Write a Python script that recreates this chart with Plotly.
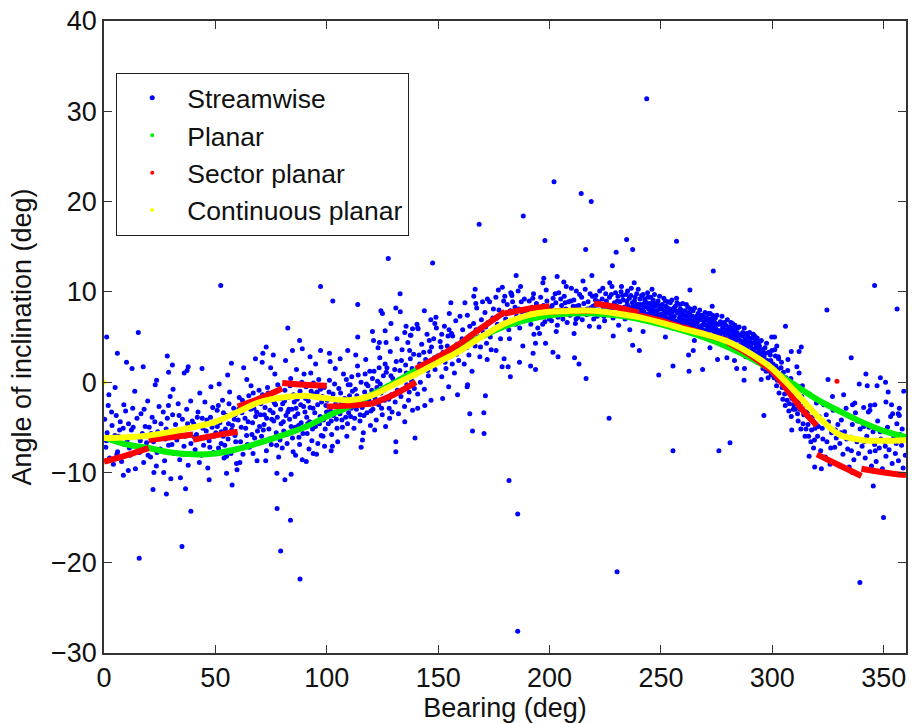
import plotly.graph_objects as go

# ---------------- data ----------------
# Streamwise scatter: (bearing deg, inclination deg)
stream_band_0_100 = [
    (0.3,-4.1),(0.8,-7.2),(1.4,-5.6),(1.9,-2.6),(2.5,-8.4),(3.1,-6.3),(3.6,-4.8),(4.2,-9.1),(4.9,-5.9),(5.5,-3.7),
    (6.1,-7.7),(6.6,-6.0),(7.3,-4.4),(7.9,-8.8),(8.6,-5.1),(9.2,-6.9),(9.7,-3.2),(2.2,-1.4),(5.0,-0.6),
    (10.4,-6.4),(11.0,-4.6),(11.7,-8.1),(12.3,-5.3),(12.9,-2.9),(13.4,-7.0),(14.1,-9.6),(14.8,-4.0),(15.3,-6.1),
    (15.9,-7.8),(16.6,-3.5),(17.2,-5.7),(17.8,-8.9),(18.5,-4.9),(19.1,-6.7),(19.6,-2.1),(13.8,-1.0),
    (20.3,-5.0),(20.9,-8.3),(21.6,-3.9),(22.2,-6.6),(22.8,-4.4),(23.5,-9.3),(24.1,-5.5),(24.7,-2.7),(25.3,-7.4),
    (26.0,-6.0),(26.6,-3.3),(27.2,-8.7),(27.9,-5.2),(28.4,-4.0),(29.0,-7.0),(29.7,-1.6),(23.0,-0.3),(26.8,-10.0),
    (30.2,-5.8),(30.8,-3.6),(31.5,-7.9),(32.1,-4.7),(32.7,-6.4),(33.3,-2.4),(34.0,-8.6),(34.6,-5.3),(35.2,-4.1),
    (35.9,-7.1),(36.5,-6.0),(37.1,-3.0),(37.8,-9.2),(38.4,-5.0),(39.0,-6.8),(39.6,-4.3),(31.0,-0.8),(36.0,1.0),
    (40.3,-4.6),(40.9,-7.5),(41.5,-5.8),(42.2,-3.3),(42.8,-8.9),(43.4,-6.2),(44.1,-4.0),(44.7,-7.0),(45.3,-2.2),
    (45.9,-5.4),(46.6,-9.5),(47.2,-6.5),(47.8,-3.9),(48.5,-5.0),(49.1,-7.8),(49.7,-4.5),(43.0,-1.2),(48.0,-0.5),
    (50.2,-5.6),(50.8,-3.1),(51.4,-7.3),(52.0,-4.5),(52.6,-6.8),(53.2,-2.0),(53.9,-8.4),(54.5,-5.2),(55.1,-3.7),
    (55.7,-6.3),(56.4,-1.1),(57.0,-7.9),(57.6,-4.8),(58.2,-2.9),(58.8,-5.9),(59.5,-9.0),(51.7,-0.2),(55.5,0.8),
    (58.5,-4.1),(53.5,-6.0),
    (60.2,-4.2),(60.7,-1.7),(61.3,-6.6),(61.9,-3.4),(62.4,-8.0),(63.0,-2.5),(63.6,-5.1),(64.1,0.3),(64.7,-4.4),
    (65.3,-7.2),(65.8,-3.0),(66.4,-5.8),(67.0,-1.2),(67.6,-6.2),(68.1,-3.8),(68.7,-8.7),(69.3,-2.2),(69.8,-4.9),
    (62.7,1.6),(66.0,-0.4),(64.0,-5.9),(68.5,-3.3),
    (70.2,-3.6),(70.7,-6.0),(71.2,-1.4),(71.8,-4.7),(72.3,-2.8),(72.9,-7.6),(73.4,-0.6),(74.0,-5.2),(74.5,-3.1),
    (75.1,-6.9),(75.6,-2.0),(76.2,-4.3),(76.7,0.9),(77.3,-5.6),(77.8,-3.9),(78.4,-8.3),(78.9,-1.8),(79.5,-4.6),
    (71.0,2.2),(74.8,1.6),(77.0,-2.5),(73.0,-4.0),(79.0,-6.4),(75.9,-3.4),
    (80.2,-2.4),(80.7,-5.4),(81.2,-0.9),(81.7,-3.7),(82.2,-6.8),(82.8,-1.7),(83.3,-4.1),(83.8,0.4),(84.3,-3.0),
    (84.9,-7.7),(85.4,-2.2),(85.9,-5.0),(86.4,1.4),(87.0,-3.5),(87.5,-6.1),(88.0,-1.0),(88.5,-4.5),(89.0,-8.6),
    (89.6,-2.7),(81.5,2.4),(84.0,-4.9),(86.2,-2.9),(88.8,0.0),(82.5,-3.3),(85.0,-1.4),(87.8,-6.9),
    (90.2,-3.3),(90.7,-0.5),(91.2,-5.7),(91.7,-2.1),(92.3,-4.4),(92.8,1.0),(93.3,-6.5),(93.8,-2.9),(94.3,-1.3),
    (94.9,-4.9),(95.4,-8.0),(95.9,-2.5),(96.4,0.3),(97.0,-3.8),(97.5,-5.9),(98.0,-1.6),(98.5,-4.2),(99.0,-7.1),
    (99.6,-2.6),(91.0,-3.9),(93.0,-1.0),(95.0,2.0),(97.2,-0.8),(99.3,-5.2),(96.0,-6.8),(92.0,-7.4),
]
stream_band_0_100_extra = [
    (1.1,-6.5),(3.4,-3.3),(5.8,-8.0),(7.0,-5.3),(8.9,-2.5),(11.4,-7.3),(13.1,-5.0),(16.3,-6.5),(18.0,-3.0),(19.8,-8.1),
    (21.2,-5.7),(23.8,-7.8),(25.6,-4.6),(27.6,-6.3),(28.9,-2.6),(30.5,-6.9),(32.4,-5.6),(33.7,-3.7),(35.5,-8.0),(37.5,-4.6),
    (38.9,-2.1),(40.6,-6.1),(41.9,-3.9),(43.7,-8.1),(44.4,-5.1),(46.2,-4.2),(47.5,-7.2),(48.8,-2.8),(49.4,-6.0),(34.3,-10.6),
    (50.9,-4.9),(51.3,-2.6),(52.7,-5.5),(53.6,-3.4),(54.2,-7.0),(55.9,-4.6),(56.1,-2.4),(57.3,-5.3),(58.9,-3.6),(59.1,-6.6),
    (60.5,-3.0),(61.6,-5.0),(62.1,-2.0),(63.3,-4.0),(64.4,-6.9),(65.0,-1.5),(66.7,-4.5),(67.3,-2.9),(68.9,-5.4),(69.6,-0.9),
    (70.4,-2.4),(71.5,-5.3),(72.0,-3.6),(73.7,-1.2),(74.2,-6.3),(75.3,-4.1),(76.5,-2.3),(77.5,-7.0),(78.0,-0.3),(79.3,-3.0),
    (80.5,-4.4),(81.0,-2.1),(82.0,-5.8),(83.0,-3.0),(83.5,-0.4),(84.6,-6.2),(85.7,-3.8),(86.7,-1.9),(87.3,-4.8),(88.3,-2.5),
    (89.3,-5.7),(89.8,0.9),(90.5,-1.8),(91.4,-4.6),(92.5,-2.8),(93.6,-5.2),(94.0,-0.1),(94.6,-3.4),(95.7,-1.1),(96.7,-4.6),
    (97.7,-2.2),(98.3,-6.0),(98.8,-0.6),(99.9,-3.3),(55.0,-8.2),(61.0,-8.9),(66.9,-7.9),(72.6,-8.7),(80.0,-7.3),(86.0,-8.1),
    (93.9,-7.9),
]
stream_band_100_200 = [
    (100.2,-2.0),(100.7,-4.6),(101.2,0.2),(101.7,-3.2),(102.2,-5.8),(102.8,-1.3),(103.3,-2.7),(103.8,1.5),(104.3,-4.1),
    (104.9,-6.6),(105.4,-0.7),(105.9,-3.5),(106.4,-2.2),(107.0,-5.0),(107.5,0.9),(108.0,-1.8),(108.5,-3.9),(109.0,-6.0),
    (109.6,-0.3),(101.5,2.3),(103.0,-3.7),(105.0,-1.9),(107.2,-2.9),(109.3,-4.6),(106.0,2.6),(102.5,-7.1),
    (110.2,-1.5),(110.7,-3.8),(111.2,0.6),(111.7,-2.4),(112.2,-5.1),(112.8,-0.8),(113.3,-3.0),(113.8,1.8),(114.3,-1.9),
    (114.9,-4.3),(115.4,0.0),(115.9,-2.8),(116.4,-5.6),(117.0,-1.1),(117.5,2.5),(118.0,-3.4),(118.5,-0.4),(119.0,-2.1),
    (119.6,-4.8),(111.5,-1.0),(113.0,3.0),(115.0,-3.6),(117.2,0.9),(119.3,1.2),(116.0,-6.4),(112.0,-2.0),
    (120.2,-0.9),(120.7,-3.0),(121.2,1.2),(121.7,-1.8),(122.2,-4.2),(122.8,0.1),(123.3,-2.5),(123.8,2.7),(124.3,-1.2),
    (124.9,-3.6),(125.4,0.7),(125.9,-2.0),(126.4,-4.9),(127.0,1.6),(127.5,-0.6),(128.0,-2.9),(128.5,3.4),(129.0,-1.4),
    (129.6,0.4),(121.5,-5.3),(124.0,-0.2),(126.2,2.0),(128.2,-4.0),(123.0,3.8),
    (130.2,0.0),(130.7,-2.2),(131.2,2.3),(131.7,-0.9),(132.2,-3.5),(132.8,1.3),(133.3,-1.6),(133.8,3.6),(134.3,0.5),
    (134.9,-2.7),(135.4,1.9),(135.9,-0.3),(136.4,4.4),(137.0,-1.1),(137.5,2.6),(138.0,0.2),(138.5,-3.1),(139.0,3.1),
    (139.6,1.0),(131.5,4.8),(135.0,-4.4),(137.8,5.2),
    (140.2,1.1),(140.8,-1.3),(141.4,3.0),(142.0,0.0),(142.6,4.2),(143.2,1.8),(143.8,-0.8),(144.4,2.5),(145.0,5.3),
    (145.6,0.7),(146.2,3.4),(146.8,-2.0),(147.4,2.0),(148.0,4.8),(148.6,1.4),(149.2,6.0),(149.8,2.9),(141.0,5.9),
    (144.0,-2.6),(147.0,3.9),
    (150.3,2.2),(150.9,4.5),(151.6,0.6),(152.2,3.3),(152.8,6.2),(153.5,1.5),(154.1,4.0),(154.7,-0.5),(155.4,2.8),
    (156.0,5.4),(156.6,3.6),(157.3,1.0),(157.9,6.8),(158.5,4.2),(159.2,2.4),(159.8,7.3),(152.0,-1.8),(155.0,7.6),
    (160.3,3.5),(161.0,5.8),(161.7,2.0),(162.4,4.6),(163.1,7.4),(163.8,3.0),(164.5,5.2),(165.2,1.2),(165.9,6.5),
    (166.6,4.0),(167.3,8.2),(168.0,5.0),(168.7,2.8),(169.4,6.9),(162.0,8.8),(166.0,9.5),
    (170.3,5.5),(171.0,7.7),(171.7,4.3),(172.4,6.6),(173.1,8.9),(173.8,3.6),(174.5,7.1),(175.2,5.9),(175.9,9.4),
    (176.6,6.4),(177.3,8.0),(178.0,4.8),(178.7,7.5),(179.4,9.0),(172.0,2.5),(177.0,10.2),
    (180.3,7.0),(181.0,8.6),(181.7,5.8),(182.4,7.9),(183.1,9.6),(183.8,6.6),(184.5,8.3),(185.2,7.3),(185.9,10.1),
    (186.6,6.0),(187.3,8.9),(188.0,7.6),(188.7,9.2),(189.4,6.9),(182.0,4.8),(187.0,10.6),
    (190.3,7.6),(190.9,9.0),(191.6,6.4),(192.2,8.3),(192.8,9.8),(193.5,7.1),(194.1,8.7),(194.7,6.0),(195.4,7.9),
    (196.0,9.4),(196.6,7.3),(197.3,8.5),(197.9,6.7),(198.5,10.2),(199.2,8.0),(199.8,7.0),(193.0,5.3),(197.0,11.0),
]
stream_band_100_200_extra = [
    (100.5,-3.8),(101.0,-1.1),(102.0,-4.3),(103.5,-0.2),(104.0,-2.4),(104.6,-5.1),(106.2,-1.2),(106.8,-4.2),(108.2,-2.6),
    (108.8,0.3),(109.8,-3.4),(110.5,-0.3),(111.0,-2.9),(112.5,-4.0),(113.5,-1.5),(114.1,0.8),(115.7,-2.0),(116.7,-3.7),
    (117.8,-0.2),(118.8,-1.5),(119.8,-3.2),(120.5,0.4),(121.0,-2.4),(122.5,-0.6),(123.5,1.6),(124.6,-2.9),(125.7,-0.9),
    (126.7,1.1),(127.8,-1.9),(128.8,0.7),(129.3,-3.3),(130.5,1.4),(131.0,-1.2),(132.5,0.3),(133.5,2.4),(134.6,-0.8),
    (135.7,1.0),(136.7,-2.0),(137.2,3.5),(138.3,1.5),(139.3,-0.7),(141.7,2.0),(143.5,3.3),(145.3,1.3),(148.3,2.7),
    (146.0,4.6),(151.3,3.9),(153.1,2.2),(154.4,5.1),(156.3,2.0),(158.2,3.1),(160.7,4.8),(162.7,3.8),(164.2,6.2),
    (167.0,5.8),(169.0,3.9),(171.3,6.1),(173.4,5.0),(174.8,8.1),(176.3,7.1),(178.3,6.0),(180.7,7.6),(183.4,8.9),
    (184.9,6.4),(186.2,8.1),(189.0,7.9),(191.2,7.2),(192.5,9.3),(195.0,8.3),(196.9,6.4),(198.8,9.0),
]
stream_band_200_360 = [
    (200.3,8.2),(200.9,6.8),(201.6,9.3),(202.2,7.5),(202.8,8.8),(203.5,6.3),(204.1,9.9),(204.7,7.8),(205.4,8.5),
    (206.0,7.0),(206.6,9.5),(207.3,8.1),(207.9,6.6),(208.5,8.9),(209.2,7.4),(209.8,10.4),(203.0,5.6),(206.4,11.1),
    (210.3,7.7),(210.9,9.1),(211.6,6.5),(212.2,8.4),(212.8,7.2),(213.5,9.7),(214.1,8.0),(214.7,6.9),(215.4,8.7),
    (216.0,10.3),(216.6,7.5),(217.3,8.9),(217.9,6.2),(218.5,8.2),(219.2,9.5),(219.8,7.0),(211.0,5.4),(215.0,11.2),
    (220.3,8.5),(220.8,9.6),(221.4,7.3),(221.9,8.9),(222.5,10.1),(223.0,7.8),(223.6,9.2),(224.1,8.2),(224.7,6.8),
    (225.2,9.8),(225.8,8.6),(226.3,7.6),(226.9,9.4),(227.4,8.0),(228.0,10.6),(228.5,7.1),(229.1,8.8),(229.6,9.9),
    (222.2,6.1),(227.0,11.0),
    (230.2,8.4),(230.7,9.5),(231.1,7.6),(231.6,8.9),(232.1,10.0),(232.5,7.9),(233.0,9.1),(233.5,8.3),(233.9,7.0),
    (234.4,9.7),(234.9,8.6),(235.3,7.4),(235.8,9.3),(236.3,8.0),(236.7,10.4),(237.2,8.8),(237.7,7.2),(238.1,9.0),
    (238.6,8.2),(239.1,9.8),(239.5,7.7),(231.0,6.3),(236.0,5.8),(238.0,11.0),
    (240.2,8.1),(240.6,9.2),(241.1,7.3),(241.5,8.6),(242.0,9.7),(242.4,7.8),(242.9,8.9),(243.3,7.0),(243.8,8.3),
    (244.2,9.4),(244.7,7.6),(245.1,8.7),(245.6,6.7),(246.0,8.0),(246.5,9.1),(246.9,7.4),(247.4,8.4),(247.8,6.9),
    (248.3,7.9),(248.7,9.0),(249.2,7.2),(249.6,8.1),(242.0,5.6),(246.0,10.3),
    (250.2,7.5),(250.6,8.6),(251.1,6.7),(251.5,7.9),(252.0,9.0),(252.4,7.1),(252.9,8.2),(253.3,6.3),(253.8,7.6),
    (254.2,8.8),(254.7,6.9),(255.1,7.8),(255.6,6.0),(256.0,7.3),(256.5,8.4),(256.9,6.5),(257.4,7.7),(257.8,6.1),
    (258.3,7.1),(258.7,8.1),(259.2,6.4),(259.6,7.4),(252.0,5.0),(257.0,9.3),
    (260.2,6.9),(260.7,7.9),(261.1,6.1),(261.6,7.3),(262.1,8.3),(262.5,6.4),(263.0,7.5),(263.5,5.7),(263.9,6.8),
    (264.4,7.9),(264.9,6.0),(265.3,7.0),(265.8,5.4),(266.3,6.6),(266.7,7.6),(267.2,5.8),(267.7,6.9),(268.1,5.2),
    (268.6,6.3),(269.1,7.2),(269.5,5.6),(265.0,4.6),
    (270.2,6.3),(270.7,7.2),(271.1,5.5),(271.6,6.6),(272.1,7.6),(272.5,5.8),(273.0,6.8),(273.5,5.0),(273.9,6.1),
    (274.4,7.1),(274.9,5.3),(275.3,6.4),(275.8,4.6),(276.3,5.7),(276.7,6.7),(277.2,4.9),(277.7,6.0),(278.1,4.3),
    (278.6,5.4),(279.1,6.3),(279.5,4.7),(272.0,3.8),
    (280.2,5.3),(280.7,6.1),(281.1,4.4),(281.6,5.6),(282.1,6.5),(282.5,4.7),(283.0,5.7),(283.5,3.8),(283.9,5.0),
    (284.4,6.0),(284.9,4.1),(285.3,5.2),(285.8,3.3),(286.3,4.5),(286.7,5.5),(287.2,3.6),(287.7,4.7),(288.1,2.8),
    (288.6,4.0),(289.1,5.0),(289.5,3.1),(283.0,2.4),
    (290.2,4.0),(290.7,4.9),(291.1,3.0),(291.6,4.3),(292.1,5.1),(292.5,3.2),(293.0,4.3),(293.5,2.2),(293.9,3.5),
    (294.4,4.5),(294.9,2.4),(295.3,3.6),(295.8,1.5),(296.3,2.8),(296.7,3.8),(297.2,1.2),(297.7,2.4),(298.1,0.5),
    (298.6,1.8),(299.1,3.0),(299.5,0.8),(295.0,0.3),
    (300.3,2.0),(300.8,0.5),(301.4,2.9),(301.9,-0.4),(302.5,1.4),(303.0,-1.2),(303.6,0.8),(304.1,2.2),(304.7,-1.9),
    (305.2,0.1),(305.8,-2.6),(306.3,-0.7),(306.9,1.3),(307.4,-3.2),(308.0,-1.3),(308.5,-3.8),(309.1,-0.4),(309.6,-2.5),
    (302.0,4.0),(307.0,2.5),
    (310.3,-3.0),(310.9,-1.2),(311.6,-4.3),(312.2,-2.1),(312.8,-5.2),(313.5,-0.4),(314.1,-3.6),(314.7,-6.0),(315.4,-2.6),
    (316.0,-4.7),(316.6,-1.3),(317.3,-6.6),(317.9,-3.9),(318.5,-7.3),(319.2,-5.1),(319.8,-2.3),(312.0,1.0),(316.5,-8.2),
    (320.3,-6.0),(321.0,-3.8),(321.7,-7.6),(322.4,-5.1),(323.1,-2.5),(323.8,-8.3),(324.5,-6.6),(325.2,-4.4),(325.9,-9.1),
    (326.6,-5.6),(327.3,-3.1),(328.0,-7.2),(328.7,-6.2),(329.4,-4.7),(322.0,-9.6),(327.0,-1.6),
    (330.3,-6.8),(331.0,-4.2),(331.7,-8.0),(332.4,-5.5),(333.1,-2.9),(333.8,-7.4),(334.5,-9.4),(335.2,-6.1),(335.9,-4.7),
    (336.6,-8.6),(337.3,-3.4),(338.0,-6.6),(338.7,-7.9),(339.4,-5.2),(332.0,-1.4),(336.0,-10.0),
    (340.3,-7.1),(341.0,-4.9),(341.7,-8.4),(342.4,-6.0),(343.1,-3.3),(343.8,-7.7),(344.5,-9.3),(345.2,-5.5),(345.9,-6.9),
    (346.6,-8.8),(347.3,-4.3),(348.0,-7.3),(348.7,-6.3),(349.4,-9.6),(344.0,-2.6),
    (350.3,-6.6),(351.0,-8.2),(351.7,-5.0),(352.4,-7.5),(353.1,-3.8),(353.8,-9.0),(354.5,-6.2),(355.2,-7.9),(355.9,-4.6),
    (356.6,-8.7),(357.3,-5.8),(358.0,-7.0),(358.7,-9.5),(359.4,-6.4),(357.0,-2.9),
]
stream_band_200_360_extra = [
    (200.6,7.4),(201.2,8.5),(202.5,9.8),(203.8,7.2),(205.0,9.2),(205.7,7.6),(207.0,8.8),(208.2,7.8),(209.5,9.0),
    (210.6,8.4),(211.9,7.0),(213.1,8.5),(214.4,9.4),(215.7,7.7),(216.9,8.1),(218.2,9.8),(219.5,8.4),
    (220.6,9.1),(221.7,8.0),(222.8,8.6),(223.9,10.4),(224.4,7.3),(225.5,9.0),(226.6,8.1),(227.7,9.7),(228.8,8.3),
    (229.9,7.5),(230.5,9.0),(231.4,8.2),(232.8,9.6),(233.7,7.6),(234.7,9.0),(235.6,8.3),(236.5,9.6),(237.5,8.4),
    (238.4,9.4),(239.3,8.6),(232.3,10.6),(235.0,10.1),(239.8,10.3),
    (240.4,8.6),(240.9,7.6),(241.3,9.6),(241.8,8.0),(242.2,8.4),(242.7,9.2),(243.1,7.5),(243.6,8.8),(244.0,9.9),
    (244.5,8.1),(244.9,7.2),(245.4,9.4),(245.8,8.3),(246.3,7.7),(246.7,8.8),(247.1,9.7),(247.6,7.9),(248.1,8.6),
    (248.5,7.4),(249.0,8.5),(249.4,9.5),(249.8,7.5),
    (250.4,8.1),(250.9,7.2),(251.3,9.3),(251.8,7.4),(252.2,8.4),(252.7,7.7),(253.1,8.9),(253.6,7.0),(254.0,8.1),
    (254.5,7.3),(254.9,9.1),(255.4,7.1),(255.8,8.2),(256.3,6.8),(256.7,7.9),(257.2,8.8),(257.6,6.7),(258.1,7.6),
    (258.5,8.6),(259.0,6.9),(259.4,7.9),(259.8,8.7),
    (260.4,7.4),(260.9,6.5),(261.4,8.6),(261.8,6.8),(262.3,7.7),(262.8,7.0),(263.2,8.1),(263.7,6.2),(264.2,7.3),
    (264.6,6.6),(265.1,8.2),(265.6,6.3),(266.0,7.3),(266.5,6.1),(267.0,7.1),(267.4,8.0),(267.9,6.2),(268.4,7.4),
    (268.8,5.8),(269.3,6.7),(269.8,7.7),
    (270.4,6.9),(270.9,5.9),(271.4,7.6),(271.8,6.1),(272.3,7.0),(272.8,6.4),(273.2,7.4),(273.7,5.6),(274.2,6.6),
    (274.6,5.9),(275.1,7.4),(275.6,5.7),(276.0,6.4),(276.5,5.2),(277.0,6.4),(277.4,7.3),(277.9,5.5),(278.4,6.6),
    (278.8,5.0),(279.3,5.8),(279.8,6.9),
    (280.4,5.8),(280.9,4.9),(281.4,6.6),(281.8,5.1),(282.3,6.0),(282.8,5.3),(283.2,6.3),(283.7,4.6),(284.2,5.5),
    (284.6,4.8),(285.1,6.1),(285.6,4.6),(286.0,5.2),(286.5,4.1),(287.0,5.1),(287.4,6.0),(287.9,4.2),(288.4,5.4),
    (288.8,3.6),(289.3,4.5),(289.8,5.5),
    (290.4,4.4),(290.9,3.6),(291.4,5.3),(291.8,3.7),(292.3,4.7),(292.8,3.9),(293.2,4.9),(293.7,3.0),(294.2,4.0),
    (294.6,3.2),(295.1,4.6),(295.6,2.8),(296.0,3.3),(296.5,2.2),(297.0,3.2),(297.4,4.3),(297.9,1.8),(298.4,3.3),
    (298.8,1.2),(299.3,2.4),(299.8,3.5),
    (300.5,1.1),(301.1,3.6),(301.6,1.8),(302.2,0.2),(302.8,2.6),(303.3,0.3),(303.9,1.6),(304.4,-0.6),(305.0,1.1),
    (305.5,-1.3),(306.1,0.5),(306.6,-2.0),(307.2,-0.1),(307.7,-2.4),(308.3,0.4),(308.8,-1.8),(309.4,-3.0),(309.9,-1.0),
    (310.6,-2.2),(311.3,-3.5),(311.9,-0.5),(312.5,-3.0),(313.2,-1.6),(313.8,-4.6),(314.4,-2.3),(315.1,-5.2),(315.7,-3.3),
    (316.3,-6.0),(317.0,-2.9),(317.6,-5.3),(318.2,-4.3),(318.9,-6.4),(319.5,-3.6),
    (320.7,-4.9),(322.7,-6.3),(324.2,-3.6),(326.2,-7.3),(328.3,-5.3),(330.7,-5.6),(333.4,-6.3),(335.5,-7.6),(338.3,-4.3),
    (341.3,-6.6),(343.4,-5.0),(346.2,-7.6),(348.4,-5.5),(350.7,-7.1),(352.8,-5.6),(355.6,-6.8),(358.3,-5.2),(359.7,-8.1),
]
stream_outliers = [
    (1.2,5.0),(15.4,5.5),(6.0,3.2),(28.4,2.9),(52.4,10.7),(82.5,6.0),(72.8,3.9),(87.8,4.6),(97.2,10.6),(102.7,9.0),
    (113.9,8.6),(113.9,5.0),(124.3,7.9),(125.0,7.6),(127.6,13.7),(128.8,6.5),(131.0,8.2),(133.0,7.8),(132.9,9.8),
    (147.5,13.2),(155.7,8.8),(135.0,5.5),(138.5,5.9),(140.8,6.0),(121.0,4.6),(123.6,4.4),(126.6,4.4),(109.4,3.5),
    (243.6,31.4),(202.0,22.2),(214.2,20.9),(218.7,20.0),(188.2,18.4),(168.4,17.5),(197.9,15.7),(216.2,14.7),
    (229.9,14.4),(234.6,15.8),(237.3,14.7),(257.0,15.6),(228.2,12.9),(273.5,12.3),(345.9,10.7),(324.5,8.0),
    (356.0,8.1),(305.9,6.2),(313.0,3.9),(312.0,3.4),(308.5,3.4),(301.0,5.0),(335.4,2.7),(263.0,10.2),(273.0,8.4),
    (185.0,11.8),(197.4,11.5),(203.4,11.7),(166.6,10.3),(219.0,11.8),(228.6,5.1),(195.5,5.4),(193.7,4.3),(198.2,4.3),
    (192.6,3.2),(201.5,3.3),(203.8,2.8),(211.2,2.7),(237.3,4.1),(240.3,3.5),(262.4,3.0),(264.5,3.5),(275.4,2.5),
    (279.6,2.7),(179.9,9.5),(182.9,9.8),
    (15.8,-19.5),(35.0,-18.2),(39.0,-14.3),(22.0,-11.9),(28.0,-12.4),(36.6,-11.8),(8.7,-10.3),(10.9,-9.8),
    (22.4,-10.0),(30.0,-10.7),(47.2,-10.8),(57.5,-11.4),(59.7,-9.7),(55.0,-10.1),(77.7,-14.0),(83.7,-15.3),
    (79.3,-18.7),(88.0,-21.8),(77.6,-10.1),(81.2,-10.8),(84.0,-10.2),(90.8,-8.8),(102.0,-7.6),(115.4,-7.2),
    (131.0,-6.6),(131.0,-7.7),(139.6,-6.2),(140.8,-2.9),
    (185.7,-27.6),(185.7,-14.6),(181.8,-10.9),(230.3,-21.0),(339.3,-22.2),(349.9,-15.0),(345.3,-11.5),(319.0,-9.4),
    (226.7,-4.0),(255.4,-7.6),(276.0,-7.6),(281.0,-6.7),(296.2,-3.7),(308.7,-5.3),(164.2,-3.5),(170.5,-3.4),
    (165.4,-5.4),(170.6,-5.7),(171.2,-1.5),(163.0,-0.5),(182.4,0.6),(178.7,1.7),(181.4,1.7),(191.5,1.8),(193.7,1.4),
    (213.2,2.0),(216.4,0.4),(249.0,0.8),(255.4,1.8),(262.6,1.2),(268.7,1.4),(284.0,1.5),(287.3,0.2),(287.5,1.5),
    (325.0,0.3),(359.0,-1.0),(342.0,0.9),(348.5,0.5),(350.8,0.0),(339.0,-0.2),(342.6,-0.4),(347.0,-0.4),
    (336.0,-2.5),(341.0,-2.8),(346.0,-2.5),(351.0,-2.2),(354.0,-3.5),(357.0,-3.7),
    (10.1,2.2),(12.6,1.5),(17.6,1.7),(30.7,1.9),(37.8,1.7),(37.3,1.3),(57.2,2.1),(23.6,0.2),(44.0,1.5),(29.0,1.1),
    (84.6,3.5),(89.0,3.7),(97.2,3.5),(101.2,3.2),(92.5,2.8),(76.0,3.0),(68.0,2.6),(71.3,3.2),
    (120.5,5.6),(126.2,5.7),(135.6,6.2),(140.5,6.4),(137.5,5.2),(148.5,6.5),(154.9,5.8),(156.5,5.1),(151.6,5.3),
    (143.8,7.9),(146.7,6.9),(149.0,7.2),(166.9,8.7),(169.9,8.9),(172.1,9.2),(178.8,10.5),(182.6,9.9),
    (207.5,10.6),(212.0,10.1),(158.7,-1.4),(163.2,-0.3),(179.6,2.6),(176.0,3.5),(186.5,2.2),(188.0,4.0),
    (311.0,1.7),(302.7,2.8),(299.7,5.0),(352.0,-1.1),(353.5,-2.5),(343.8,-3.1),(337.0,-2.3),(356.5,-3.5),
]

# Planar fit (green)
planar_bearing = [0,10,20,30,40,50,60,70,80,90,100,110,120,130,140,150,160,170,180,
                  190,200,210,220,230,240,250,260,270,280,290,300,310,320,330,340,350,360]
planar_angle = [-6.1,-6.9,-7.3,-7.8,-8.0,-7.9,-7.4,-6.7,-5.9,-5.0,-3.8,-2.7,-1.4,-0.1,1.3,2.6,3.9,5.1,6.2,
                6.9,7.4,7.6,7.6,7.4,7.0,6.4,5.7,4.9,3.9,2.7,1.3,-0.3,-1.9,-3.2,-4.4,-5.4,-6.1]

# Sector planar fit (red), one list per 20-degree sector
sector_bearing = [
    [0,10,20],[20,30,40],[40,50,60],[60,70,80],[80,90,100],[100,110,120],[120,130,140],[140,150,160],
    [160,170,180],[180,190,200],[200,210,220],[220,230,240],[240,250,260],[260,270,280],[280,290,300],
    [300,305,310,315,320],[320,330,340],[340,350,360],
]
sector_angle = [
    [-8.8,-8.1,-7.3],[-6.4,-6.1,-5.8],[-6.4,-5.9,-5.5],[-2.7,-1.8,-0.7],[-0.1,-0.3,-0.4],[-2.7,-2.6,-2.4],
    [-2.4,-1.4,0.0],[1.5,2.8,4.3],[4.3,6.1,7.8],[7.6,8.1,8.4],[7.8,7.9,7.9],[8.7,8.3,7.7],[7.4,6.8,6.0],
    [6.1,5.3,4.6],[4.4,3.0,1.2],[1.2,-0.3,-2.0,-3.5,-4.8],[-8.0,-9.2,-10.4],[-9.6,-10.0,-10.3],
]
sector_stray_bearing = [329]
sector_stray_angle = [0.1]

# Continuous planar fit (yellow)
cont_bearing = [0,10,20,30,40,50,60,70,80,90,100,110,120,130,140,150,160,170,180,
                190,200,210,220,230,240,250,260,270,280,290,300,310,320,330,340,350,360]
cont_angle = [-6.2,-6.1,-5.9,-5.5,-5.0,-4.4,-3.3,-2.2,-1.7,-1.5,-1.8,-2.0,-1.5,-0.3,0.9,2.2,3.5,5.1,6.5,
              7.4,7.8,7.9,7.9,7.6,7.2,6.6,5.9,5.3,4.5,3.2,1.5,-1.0,-3.7,-5.8,-6.4,-6.5,-6.4]
cont_stray_bearing = [0]
cont_stray_angle = [0.0]

series_names = ["Streamwise", "Planar", "Sector planar", "Continuous planar"]
colors = {"Streamwise": "#0000ff", "Planar": "#00ee00", "Sector planar": "#ff0000", "Continuous planar": "#ffff00"}

# ---------------- figure ----------------
pts = (stream_band_0_100 + stream_band_0_100_extra + stream_band_100_200 + stream_band_100_200_extra
       + stream_band_200_360 + stream_band_200_360_extra + stream_outliers)
sx = [p[0] for p in pts]
sy = [p[1] for p in pts]

FONT = "Liberation Sans, Helvetica, Arial, sans-serif"
fig = go.Figure()
fig.add_trace(go.Scatter(x=sx, y=sy, mode="markers", name=series_names[0],
                         marker=dict(color=colors["Streamwise"], size=5, line=dict(width=0))))
fig.add_trace(go.Scatter(x=planar_bearing, y=planar_angle, mode="lines", showlegend=False,
                         line=dict(color=colors["Planar"], width=6, shape="spline")))
rx, ry = [], []
for b, a in zip(sector_bearing, sector_angle):
    rx += b + [None]
    ry += a + [None]
fig.add_trace(go.Scatter(x=rx, y=ry, mode="lines", showlegend=False, connectgaps=False,
                         line=dict(color=colors["Sector planar"], width=6, shape="spline")))
fig.add_trace(go.Scatter(x=sector_stray_bearing, y=sector_stray_angle, mode="markers", showlegend=False,
                         marker=dict(color=colors["Sector planar"], size=5)))
fig.add_trace(go.Scatter(x=cont_bearing, y=cont_angle, mode="lines", showlegend=False,
                         line=dict(color=colors["Continuous planar"], width=6, shape="spline")))
fig.add_trace(go.Scatter(x=cont_stray_bearing, y=cont_stray_angle, mode="markers", showlegend=False,
                         marker=dict(color=colors["Continuous planar"], size=5), cliponaxis=False))
for nm in series_names[1:]:
    fig.add_trace(go.Scatter(x=[None], y=[None], mode="markers", name=nm,
                             marker=dict(color=colors[nm], size=4)))

axis_common = dict(showline=True, linecolor="#333333", linewidth=1.5, mirror="ticks", ticks="inside",
                   ticklen=8, tickwidth=1, tickcolor="#333333", showgrid=False, zeroline=False,
                   tickfont=dict(family=FONT, size=27, color="#111111"))
fig.update_xaxes(range=[0, 360], tick0=0, dtick=50,
                 title=dict(text="Bearing (deg)", font=dict(family=FONT, size=27, color="#111111"), standoff=6),
                 **axis_common)
fig.update_yaxes(range=[-30, 40], tick0=-30, dtick=10,
                 title=dict(text="Angle of inclination (deg)", font=dict(family=FONT, size=27, color="#111111"), standoff=12),
                 **axis_common)
fig.update_layout(
    width=914, height=724,
    margin=dict(l=104, r=6, t=19, b=70),
    paper_bgcolor="white", plot_bgcolor="white",
    font=dict(family=FONT, size=27, color="#111111"),
    showlegend=True,
    legend=dict(x=0.015, y=0.918, xanchor="left", yanchor="top", bgcolor="white",
                bordercolor="#222222", borderwidth=1.2, itemwidth=60,
                font=dict(family=FONT, size=26.5, color="#111111")),
)
fig.write_html("out.html")
